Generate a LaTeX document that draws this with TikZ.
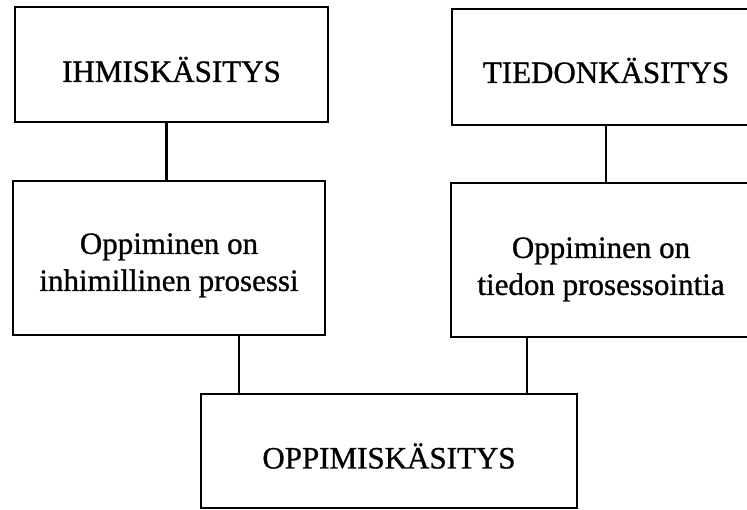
\documentclass[tikz,border=0pt]{standalone}
\usepackage{fontspec}
\setmainfont{Liberation Serif}
\newfontfamily\scanfont{Liberation Serif}[FakeBold=0.9]
\newcommand{\lowered}[2]{\raisebox{-#1}[\height][\depth]{#2}}

\begin{document}
\begin{tikzpicture}[
    x=1pt, y=-1pt,
    box/.style={rectangle, draw=black, line width=2.2pt, fill=white,
        inner sep=0pt, align=center,
        font=\scanfont\fontsize{31}{37}\selectfont},
    edge/.style={line width=2.2pt, -}
]
    \useasboundingbox (0,0) rectangle (747,509);
    \clip (0,0) rectangle (747,509);
    \node[box, minimum width=313pt, minimum height=115pt] (ihmis) at (171.5,64.5) {\lowered{5pt}{IHMISKÄSITYS}};
    \node[box, minimum width=308pt, minimum height=116pt] (tiedon) at (606,67) {\lowered{3.5pt}{TIEDONKÄSITYS}};
    \node[box, minimum width=312pt, minimum height=154pt] (inhim) at (169,258) {\lowered{7pt}{\begin{tabular}{@{}c@{}}Oppiminen on\\inhimillinen prosessi\end{tabular}}};
    \node[box, minimum width=300pt, minimum height=154pt] (proses) at (601,260) {\lowered{9pt}{\begin{tabular}{@{}c@{}}Oppiminen on\\tiedon prosessointia\end{tabular}}};
    \node[box, minimum width=376pt, minimum height=114pt] (oppim) at (389,451) {\lowered{5pt}{OPPIMISKÄSITYS}};
    \draw[edge] ([xshift=-5pt]ihmis.south) -- ([xshift=-5pt]ihmis.south |- inhim.north);
    \draw[edge] (tiedon.south) -- (tiedon.south |- proses.north);
    \draw[edge] ([xshift=70pt]inhim.south) -- ([xshift=70pt]inhim.south |- oppim.north);
    \draw[edge] ([xshift=-74pt]proses.south) -- ([xshift=-74pt]proses.south |- oppim.north);
\end{tikzpicture}
\end{document}
